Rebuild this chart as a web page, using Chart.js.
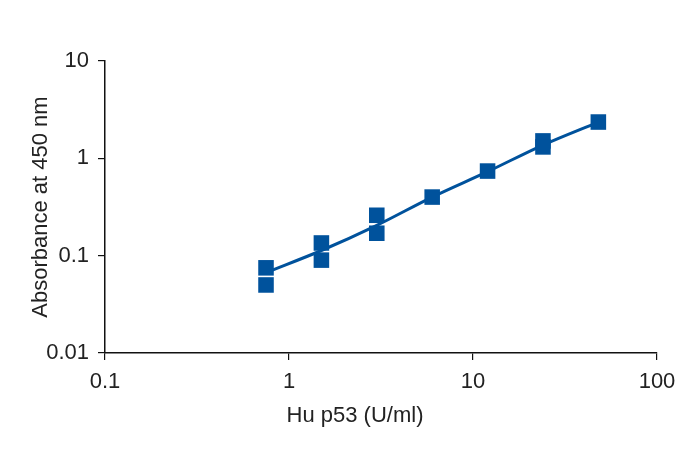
<!DOCTYPE html>
<html>
<head>
<meta charset="utf-8">
<script src="https://cdn.jsdelivr.net/npm/chart.js@4"></script>
<style>
html,body{margin:0;padding:0;background:#fff;}
#wrap{width:700px;height:453px;}
</style>
</head>
<body>
<div id="wrap"><canvas id="c" width="700" height="453"></canvas></div>
<script>
// Measured replicates
const concX = [0.75, 0.75, 1.5, 1.5, 3, 3, 6, 12, 24, 24, 48];
const absorbY = [0.075, 0.050, 0.135, 0.090, 0.26, 0.17, 0.40, 0.74, 1.51, 1.31, 2.36];
// Fitted curve
const fitX = [0.75, 1.5, 3, 6, 12, 24, 48];
const fitY = [0.067, 0.113, 0.205, 0.40, 0.73, 1.37, 2.36];
// Tick labels
const xTicks = [0.1, 1, 10, 100];
const yTicks = [0.01, 0.1, 1, 10];
const xTitle = 'Hu p53 (U/ml)';
const yTitle = 'Absorbance at 450 nm';

const blue = '#00529c';
const FONT = '"Liberation Sans", Arial, sans-serif';

const xTitlePlugin = {
  id: 'xTitlePlugin',
  afterDraw(chart) {
    const ctx = chart.ctx;
    ctx.save();
    ctx.font = '22px ' + FONT;
    ctx.fillStyle = '#222';
    ctx.textAlign = 'center';
    ctx.textBaseline = 'middle';
    ctx.fillText(xTitle, 355, 416);
    ctx.restore();
  }
};

new Chart(document.getElementById('c'), {
  type: 'scatter',
  data: {
    datasets: [
      {
        label: 'Replicates',
        data: concX.map((x, i) => ({x: x, y: absorbY[i]})),
        backgroundColor: blue,
        borderColor: blue,
        borderWidth: 0,
        pointStyle: 'rect',
        pointRadius: 11,
        pointHoverRadius: 11,
        showLine: false,
        order: 0
      },
      {
        label: 'Fit',
        data: fitX.map((x, i) => ({x: x, y: fitY[i]})),
        borderColor: blue,
        backgroundColor: blue,
        borderWidth: 3,
        pointRadius: 0,
        showLine: true,
        cubicInterpolationMode: 'monotone',
        order: 1
      }
    ]
  },
  options: {
    responsive: false,
    animation: false,
    devicePixelRatio: 1,
    layout: { padding: { top: 61, right: 43, left: 0, bottom: 0 } },
    plugins: { legend: { display: false }, tooltip: { enabled: false } },
    scales: {
      x: {
        type: 'logarithmic',
        min: 0.1, max: 100,
        afterBuildTicks: s => { s.ticks = xTicks.map(v => ({value: v})); },
        afterFit: s => { s.height = 100; },
        border: { display: true, color: '#111', width: 1.5 },
        grid: { display: true, drawOnChartArea: false, drawTicks: true, tickLength: 7, color: '#111', lineWidth: 1.2 },
        ticks: {
          autoSkip: false, maxRotation: 0, padding: 9,
          color: '#222', font: { family: FONT, size: 22 },
          callback: v => String(v)
        },
        title: { display: false }
      },
      y: {
        type: 'logarithmic',
        min: 0.01, max: 10,
        afterBuildTicks: s => { s.ticks = yTicks.map(v => ({value: v})); },
        afterFit: s => { s.width = 105; },
        border: { display: true, color: '#111', width: 1.5 },
        grid: { display: true, drawOnChartArea: false, drawTicks: true, tickLength: 7, color: '#111', lineWidth: 1.2 },
        ticks: {
          autoSkip: false, padding: 9,
          color: '#222', font: { family: FONT, size: 22 },
          callback: v => String(v)
        },
        title: { display: true, text: yTitle, color: '#222', font: { family: FONT, size: 22 }, padding: { top: 28, bottom: 0 } }
      }
    }
  },
  plugins: [xTitlePlugin]
});
</script>
</body>
</html>
